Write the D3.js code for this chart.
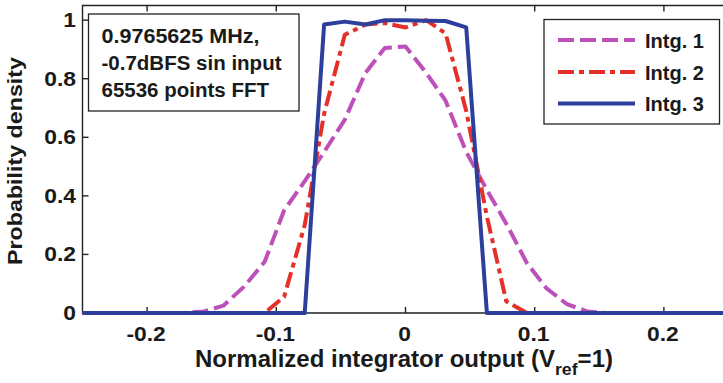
<!DOCTYPE html>
<html>
<head>
<meta charset="utf-8">
<script src="https://cdn.jsdelivr.net/npm/d3@7"></script>
<style>
    body { margin: 0; background: #fff; }
    svg { display: block; }
    text { font-family: "Liberation Sans", Arial, sans-serif; font-weight: bold; fill: #1a1a1a; }
</style>
</head>
<body>
<div id="chart"></div>
<script>
// values (bins are 1/64 wide)
let intg1X = [-0.25, -0.172, -0.156, -0.141, -0.125, -0.109, -0.094, -0.078, -0.063, -0.047, -0.031, -0.016, 0,
    0.016, 0.031, 0.047, 0.063, 0.078, 0.094, 0.109, 0.125, 0.141, 0.156, 0.25];
let intg1Y = [0, 0, 0.005, 0.025, 0.09, 0.175, 0.35, 0.45, 0.55, 0.66, 0.82, 0.905, 0.91,
    0.82, 0.725, 0.55, 0.42, 0.305, 0.17, 0.085, 0.03, 0.005, 0, 0];

let intg2X = [-0.25, -0.109, -0.094, -0.078, -0.063, -0.047, -0.031, -0.016, 0, 0.016, 0.031, 0.047, 0.063, 0.078, 0.094, 0.25];
let intg2Y = [0, 0, 0.055, 0.30, 0.68, 0.95, 0.985, 0.99, 0.975, 1.0, 0.955, 0.69, 0.33, 0.04, 0, 0];

let intg3X = [-0.25, -0.078, -0.063, -0.047, -0.031, -0.016, 0, 0.016, 0.031, 0.047, 0.063, 0.25];
let intg3Y = [0, 0, 0.985, 0.995, 0.985, 1.0, 1.0, 0.998, 0.997, 0.975, 0, 0];

let seriesNames = ['Intg. 1', 'Intg. 2', 'Intg. 3'];
let xTicks = [-0.2, -0.1, 0, 0.1, 0.2];
let yTicks = [0, 0.2, 0.4, 0.6, 0.8, 1];
let noteLines = ['0.9765625 MHz,', '-0.7dBFS sin input', '65536 points FFT'];

let width = 723, height = 383;
// the axes box runs a few pixels past the right edge of the picture
let plot = {left: 82.5, right: 728.5, top: 5.5, bottom: 313};

let styles = [
    {color: '#bd50b9', dash: '16,6'},
    {color: '#e5302a', dash: '16,5,5,5'},
    {color: '#2c3f9c', dash: null}
];

let x = d3.scaleLinear().domain([-0.25, 0.25]).range([plot.left, plot.right]);
let y = d3.scaleLinear().domain([0, 1.05]).range([plot.bottom, plot.top]);

let svg = d3.select('#chart').append('svg')
    .attr('width', width)
    .attr('height', height);

let series = [
    intg1X.map((v, i) => [v, intg1Y[i]]),
    intg2X.map((v, i) => [v, intg2Y[i]]),
    intg3X.map((v, i) => [v, intg3Y[i]])
];

// axes frame
let frame = svg.append('g').attr('stroke', '#222').attr('stroke-width', 1.4).attr('fill', 'none');
frame.append('path')
    .attr('d', `M${plot.right},${plot.top}H${plot.left}V${plot.bottom}H${plot.right}`);

frame.selectAll('.ytick')
    .data(yTicks)
    .enter()
    .append('line')
    .attr('x1', plot.left).attr('x2', plot.left + 6)
    .attr('y1', d => y(d)).attr('y2', d => y(d));

frame.selectAll('.xtick')
    .data(xTicks)
    .enter()
    .append('path')
    .attr('d', d => `M${x(d)},${plot.bottom}v-6M${x(d)},${plot.top}v6`);

// tick labels, the figure has them a bit wide
svg.selectAll('.ylab')
    .data(yTicks)
    .enter()
    .append('text')
    .attr('text-anchor', 'end')
    .attr('dy', '0.36em')
    .attr('font-size', 19.5)
    .attr('transform', d => `translate(76,${y(d)}) scale(1.17,1)`)
    .text(d => d === 0 || d === 1 ? d : d.toFixed(1));

svg.selectAll('.xlab')
    .data(xTicks)
    .enter()
    .append('text')
    .attr('text-anchor', 'middle')
    .attr('font-size', 19.5)
    .attr('transform', d => `translate(${x(d) - 1},340.5) scale(1.17,1)`)
    .text(d => d === 0 ? '0' : d.toFixed(1));

// curves
let line = d3.line().x(d => x(d[0])).y(d => y(d[1]));
svg.append('g')
    .selectAll('path')
    .data(series)
    .enter()
    .append('path')
    .attr('d', line)
    .attr('fill', 'none')
    .attr('stroke', (d, i) => styles[i].color)
    .attr('stroke-width', 4)
    .attr('stroke-linejoin', 'round')
    .attr('stroke-dasharray', (d, i) => styles[i].dash);

// axis titles
let xTitle = svg.append('text')
    .attr('x', 195)
    .attr('y', 367)
    .attr('font-size', 23)
    .attr('textLength', 418)
    .attr('lengthAdjust', 'spacingAndGlyphs');
xTitle.append('tspan').text('Normalized integrator output (V');
xTitle.append('tspan').attr('dy', 8).attr('font-size', 17).text('ref');
xTitle.append('tspan').attr('dy', -8).text('=1)');

svg.append('text')
    .attr('transform', 'translate(22,161) rotate(-90)')
    .attr('text-anchor', 'middle')
    .attr('font-size', 20)
    .attr('textLength', 208)
    .attr('lengthAdjust', 'spacingAndGlyphs')
    .text('Probability density');

// note box
svg.append('rect')
    .attr('x', 88.5).attr('y', 14)
    .attr('width', 210.5).attr('height', 97)
    .attr('fill', '#fff')
    .attr('stroke', '#222')
    .attr('stroke-width', 1.3);

let noteWidths = [158, 180, 167.5];
svg.selectAll('.note')
    .data(noteLines)
    .enter()
    .append('text')
    .attr('x', 101.5)
    .attr('y', (d, i) => 43.3 + i * 27)
    .attr('font-size', 19.5)
    .attr('textLength', (d, i) => noteWidths[i])
    .attr('lengthAdjust', 'spacingAndGlyphs')
    .text(d => d);

// legend
let legend = svg.append('g');
legend.append('rect')
    .attr('x', 544).attr('y', 19.5)
    .attr('width', 175.5).attr('height', 104.5)
    .attr('fill', '#fff')
    .attr('stroke', '#222')
    .attr('stroke-width', 1.3);

let legendRows = [40, 72, 103.5];
seriesNames.forEach((name, i) => {
    legend.append('line')
        .attr('x1', 558).attr('x2', 635)
        .attr('y1', legendRows[i]).attr('y2', legendRows[i])
        .attr('stroke', styles[i].color)
        .attr('stroke-width', 4)
        .attr('stroke-dasharray', styles[i].dash);
    legend.append('text')
        .attr('x', 645)
        .attr('y', legendRows[i] + 7.5)
        .attr('font-size', 20)
        .text(name);
});
</script>
</body>
</html>
